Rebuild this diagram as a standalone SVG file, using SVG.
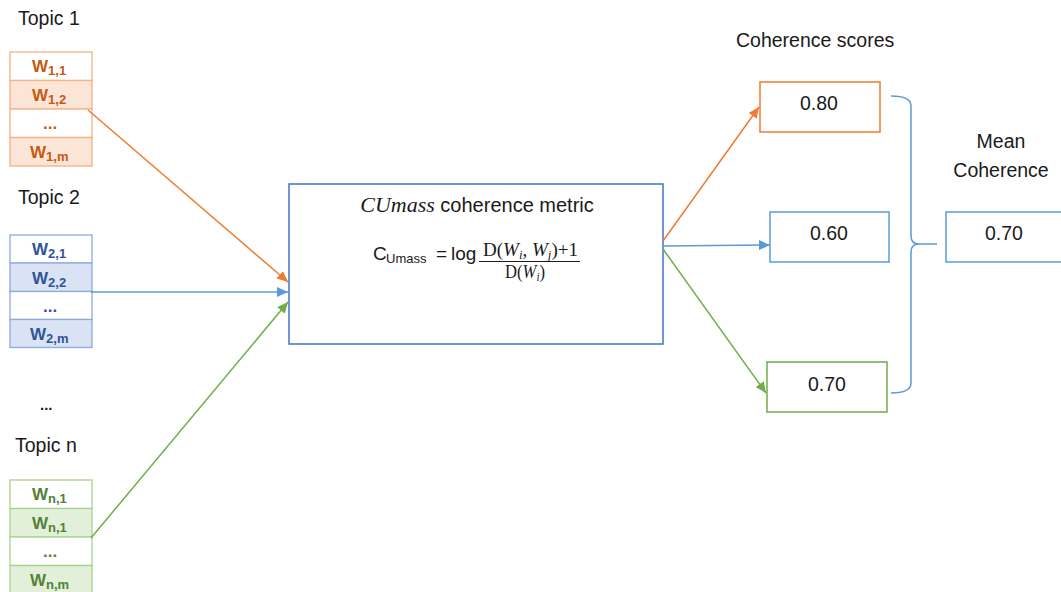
<svg xmlns="http://www.w3.org/2000/svg" width="1061" height="592" viewBox="0 0 1061 592">
<style>
text{font-family:"Liberation Sans",Arial,sans-serif;fill:#1a1a1a}
.lbl{font-size:19.5px}
.w{font-size:17px;font-weight:bold}
.ws{font-size:13px;font-weight:bold}
.so{fill:#C55A11}.sb{fill:#2F5597}.sg{fill:#538135}
.ro{stroke:#F4B183;stroke-width:1.3}
.rb{stroke:#8FAADC;stroke-width:1.3}
.rg{stroke:#A9D18E;stroke-width:1.3}
.serif{font-family:"Liberation Serif","Times New Roman",serif}
.con{fill:none;stroke-width:1.5}
</style>
<defs>
<marker id="ao" markerUnits="userSpaceOnUse" markerWidth="12" markerHeight="10" refX="11" refY="5" orient="auto"><path d="M0,0 L11,5 L0,10 z" fill="#ED7D31"/></marker>
<marker id="ab" markerUnits="userSpaceOnUse" markerWidth="12" markerHeight="10" refX="11" refY="5" orient="auto"><path d="M0,0 L11,5 L0,10 z" fill="#5B9BD5"/></marker>
<marker id="ag" markerUnits="userSpaceOnUse" markerWidth="12" markerHeight="10" refX="11" refY="5" orient="auto"><path d="M0,0 L11,5 L0,10 z" fill="#70AD47"/></marker>
</defs>
<rect width="1061" height="592" fill="#ffffff"/>

<g id="topic1">
<text class="lbl" x="18" y="25">Topic 1</text>
<rect class="ro" x="10" y="52" width="82" height="28.5" fill="#ffffff"/>
<rect class="ro" x="10" y="80.5" width="82" height="28.5" fill="#FBE5D6"/>
<rect class="ro" x="10" y="109" width="82" height="28.5" fill="#ffffff"/>
<rect class="ro" x="10" y="137.5" width="82" height="28.5" fill="#FBE5D6"/>
<text class="w so" x="32" y="72">W<tspan class="ws so" dy="3">1,1</tspan></text>
<text class="w so" x="32" y="101">W<tspan class="ws so" dy="3">1,2</tspan></text>
<text class="w so" x="43" y="129">...</text>
<text class="w so" x="30" y="158">W<tspan class="ws so" dy="3">1,m</tspan></text>
</g>

<g id="topic2">
<text class="lbl" x="18" y="204">Topic 2</text>
<rect class="rb" x="10" y="235" width="82" height="28" fill="#ffffff"/>
<rect class="rb" x="10" y="263" width="82" height="28.5" fill="#DAE3F3"/>
<rect class="rb" x="10" y="291.5" width="82" height="28" fill="#ffffff"/>
<rect class="rb" x="10" y="319.5" width="82" height="28" fill="#DAE3F3"/>
<text class="w sb" x="32" y="255">W<tspan class="ws sb" dy="3">2,1</tspan></text>
<text class="w sb" x="32" y="284">W<tspan class="ws sb" dy="3">2,2</tspan></text>
<text class="w sb" x="43" y="312">...</text>
<text class="w sb" x="30" y="340">W<tspan class="ws sb" dy="3">2,m</tspan></text>
</g>

<text x="40" y="410" style="font-weight:bold;font-size:15px">...</text>

<g id="topicn">
<text class="lbl" x="15" y="452">Topic n</text>
<rect class="rg" x="10" y="480" width="82" height="28.5" fill="#ffffff"/>
<rect class="rg" x="10" y="508.5" width="82" height="28.5" fill="#E2F0D9"/>
<rect class="rg" x="10" y="537" width="82" height="28.5" fill="#ffffff"/>
<rect class="rg" x="10" y="565.5" width="82" height="28.5" fill="#E2F0D9"/>
<text class="w sg" x="32" y="500">W<tspan class="ws sg" dy="3">n,1</tspan></text>
<text class="w sg" x="32" y="529">W<tspan class="ws sg" dy="3">n,1</tspan></text>
<text class="w sg" x="43" y="557">...</text>
<text class="w sg" x="30" y="586">W<tspan class="ws sg" dy="3">n,m</tspan></text>
</g>

<g id="metric">
<rect x="289" y="184" width="374" height="160" fill="#ffffff" stroke="#4472C4" stroke-width="1.5"/>
<text x="477" y="212" text-anchor="middle" style="font-size:20px"><tspan class="serif" style="font-style:italic;font-size:22px">CUmass</tspan> coherence metric</text>
<text x="373" y="260" style="font-size:19px">C</text>
<text x="386" y="263" style="font-size:13px">Umass</text>
<text x="436" y="260" style="font-size:19px">=</text>
<text x="451" y="260" style="font-size:19px">log</text>
<text class="serif" x="483" y="256" textLength="95" lengthAdjust="spacingAndGlyphs" style="font-size:18px">D(<tspan style="font-style:italic">W</tspan><tspan style="font-style:italic;font-size:12px" dy="3">i</tspan><tspan dy="-3">, </tspan><tspan style="font-style:italic">W</tspan><tspan style="font-style:italic;font-size:12px" dy="3">j</tspan><tspan dy="-3">)+1</tspan></text>
<line x1="479" y1="261.5" x2="580" y2="261.5" stroke="#1a1a1a" stroke-width="1.2"/>
<text class="serif" x="505" y="278" textLength="40" lengthAdjust="spacingAndGlyphs" style="font-size:18px">D(<tspan style="font-style:italic">W</tspan><tspan style="font-style:italic;font-size:12px" dy="3">i</tspan><tspan dy="-3">)</tspan></text>
</g>

<text class="lbl" x="736" y="47">Coherence scores</text>

<g id="score1">
<rect x="760" y="82" width="120" height="50" fill="#ffffff" stroke="#ED7D31" stroke-width="1.5"/>
<text class="lbl" x="819" y="110" text-anchor="middle">0.80</text>
</g>
<g id="score2">
<rect x="770" y="212" width="119" height="50" fill="#ffffff" stroke="#5B9BD5" stroke-width="1.5"/>
<text class="lbl" x="829" y="240" text-anchor="middle">0.60</text>
</g>
<g id="score3">
<rect x="767" y="362" width="120" height="50" fill="#ffffff" stroke="#70AD47" stroke-width="1.5"/>
<text class="lbl" x="827" y="391" text-anchor="middle">0.70</text>
</g>

<g id="mean">
<text class="lbl" x="1001" y="148" text-anchor="middle">Mean</text>
<text class="lbl" x="1001" y="177" text-anchor="middle">Coherence</text>
<rect x="946" y="212" width="120" height="50" fill="#ffffff" stroke="#5B9BD5" stroke-width="1.5"/>
<text class="lbl" x="1004" y="240" text-anchor="middle">0.70</text>
</g>

<g id="connectors">
<path class="con" stroke="#ED7D31" d="M88,110 L288,282" marker-end="url(#ao)"/>
<path class="con" stroke="#5B9BD5" d="M91,292 L288,292" marker-end="url(#ab)"/>
<path class="con" stroke="#70AD47" d="M91,538 L288,302" marker-end="url(#ag)"/>
<path class="con" stroke="#ED7D31" d="M663,241 L759,107" marker-end="url(#ao)"/>
<path class="con" stroke="#5B9BD5" d="M663,246 L770,245" marker-end="url(#ab)"/>
<path class="con" stroke="#70AD47" d="M663,249 L766,393" marker-end="url(#ag)"/>
<path class="con" stroke="#5B9BD5" d="M891,96 Q911,96 911,106 L911,236 Q911,244 919,244 Q911,244 911,252 L911,383 Q911,393 891,393 M919,244 L937,244"/>
</g>
</svg>
